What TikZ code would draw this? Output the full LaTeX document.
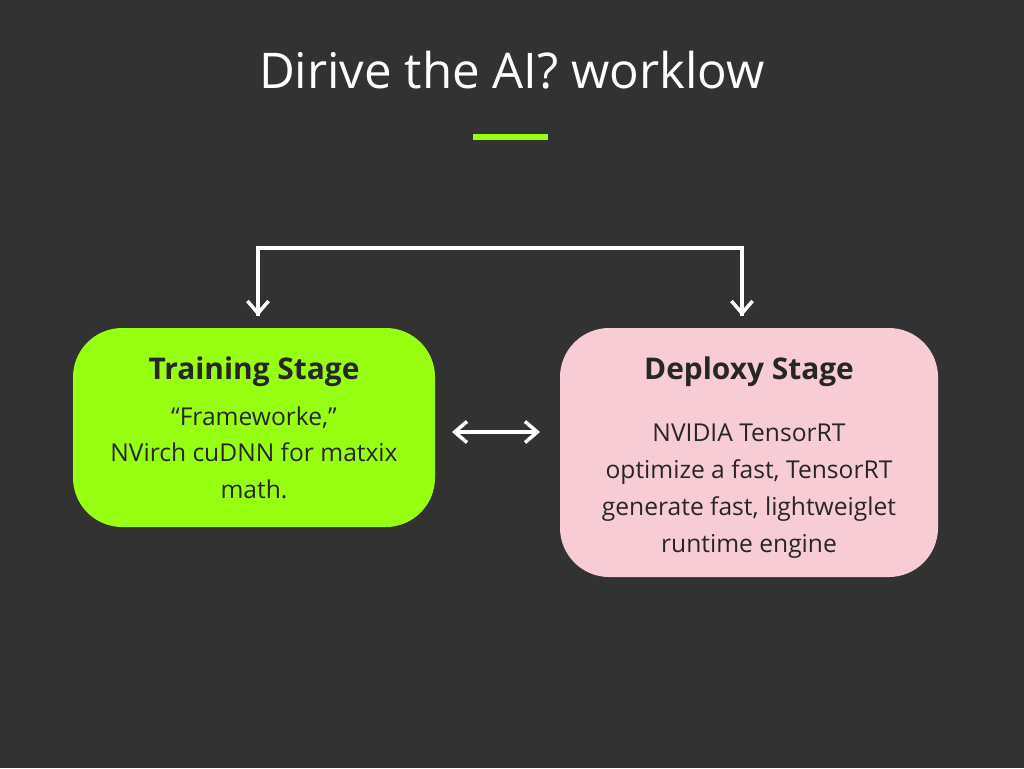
\documentclass[tikz,border=0pt]{standalone}
\usepackage{fontspec}
\setmainfont{Open Sans}
\usetikzlibrary{positioning, arrows.meta}
\definecolor{bg}{HTML}{323232}
\definecolor{nvgreen}{HTML}{99FF12}
\definecolor{pinkbox}{HTML}{F8CCD4}
\tikzset{
  stage/.style={rounded corners=28pt, draw=none, anchor=north west},
  head/.style={font=\fontsize{17}{20}\selectfont\bfseries, text=black!85},
  body/.style={font=\fontsize{14}{21}\selectfont, text=black!85, align=center},
  link/.style={draw=white, line width=2pt, -{Straight Barb[length=7pt,width=12pt]}}
}
\begin{document}
\begin{tikzpicture}[x=0.02cm, y=-0.02cm]
\fill[bg] (0,0) rectangle (1024,768);
\useasboundingbox (0,0) rectangle (1024,768);
\node[text=white, font=\fontsize{28}{32}\selectfont] (title) at (512,70) {Dirive the AI? worklow};
\fill[nvgreen] (473,134) rectangle (548,140);

\path[fill=nvgreen, rounded corners=28pt] (73,328) rectangle (435,527);
\path[fill=pinkbox, rounded corners=28pt] (560,328) rectangle (938,577);
\coordinate (train) at (254,328);
\coordinate (deploy) at (749,328);

\node[head] (train-head) at (254,372) {Training Stage};
\node[body, below=4pt of train-head] (train-text) {“Frameworke,”\\NVirch cuDNN for matxix\\math.};
\node[head] (deploy-head) at (749,372) {Deploxy Stage};
\node[body, below=14pt of deploy-head] (deploy-text) {NVIDIA TensorRT\\optimize a fast, TensorRT\\generate fast, lightweiglet\\runtime engine};

\coordinate (top-l) at (258,248);
\coordinate (top-r) at (742,248);
\coordinate (end-l) at (258,316);
\coordinate (end-r) at (742,316);
\draw[draw=white, line width=2pt] (end-l) -- (top-l) -- (top-r) -- (end-r);
\draw[link] (top-l) -- (end-l);
\draw[link] (top-r) -- (end-r);

\coordinate (mid-l) at (452,432);
\coordinate (mid-r) at (540,432);
\draw[link, {Straight Barb[length=7pt,width=12pt]}-{Straight Barb[length=7pt,width=12pt]}] (mid-l) -- (mid-r);
\end{tikzpicture}
\end{document}
